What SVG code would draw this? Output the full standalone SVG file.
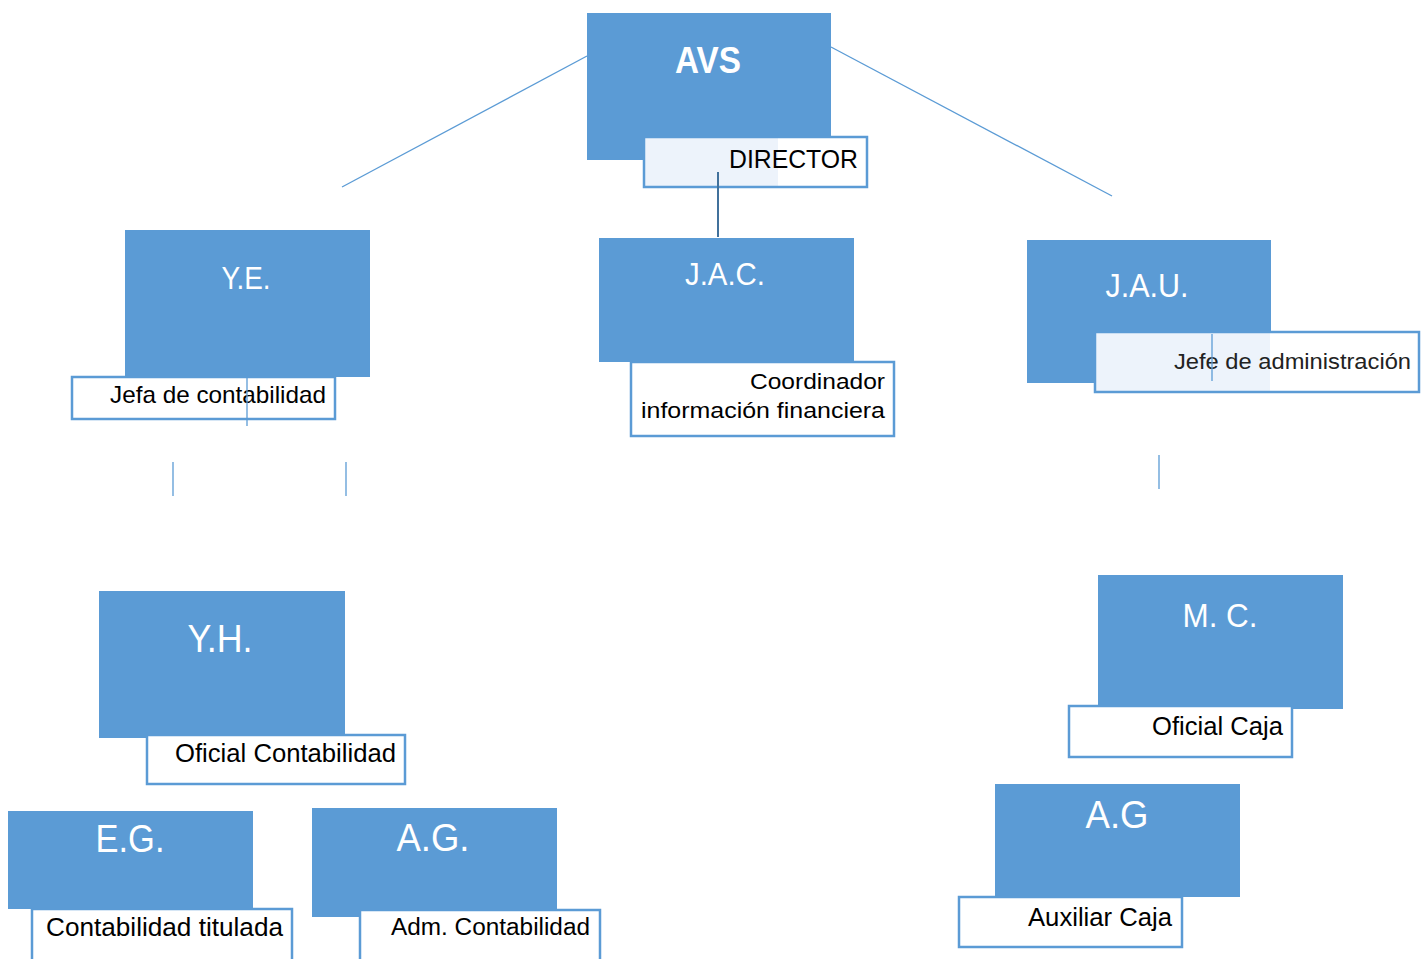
<svg xmlns="http://www.w3.org/2000/svg" width="1424" height="959" viewBox="0 0 1424 959">
<style>
.box{fill:#5b9bd5}
.lab{fill:#fff;stroke:#5b9bd5;stroke-width:2.5}
.tint{stroke:#5b9bd5;stroke-width:2.5}
.h{fill:#fff;font-family:"Liberation Sans",Arial,sans-serif;text-anchor:middle}
.t{fill:#000;font-family:"Liberation Sans",Arial,sans-serif;text-anchor:end}
.c{stroke:#5b9bd5;stroke-width:1.3;fill:none}
</style>
<defs>
<linearGradient id="g1" x1="0" y1="0" x2="1" y2="0">
<stop offset="0" stop-color="#edf3fb"/><stop offset="0.6" stop-color="#edf3fb"/><stop offset="0.6" stop-color="#fff"/><stop offset="1" stop-color="#fff"/>
</linearGradient>
<linearGradient id="g2" x1="0" y1="0" x2="1" y2="0">
<stop offset="0" stop-color="#edf3fb"/><stop offset="0.54" stop-color="#edf3fb"/><stop offset="0.54" stop-color="#fff"/><stop offset="1" stop-color="#fff"/>
</linearGradient>
</defs>
<g id="avs">
<rect class="box" x="587" y="13" width="244" height="147"/>
<text class="h" x="708" y="73" font-size="36" font-weight="bold" textLength="66" lengthAdjust="spacingAndGlyphs">AVS</text>
<rect class="tint" x="644" y="137" width="223" height="50" fill="url(#g1)"/>
<text class="t" x="858" y="168" font-size="26" textLength="129" lengthAdjust="spacingAndGlyphs">DIRECTOR</text>
</g>
<g id="ye">
<rect class="box" x="125" y="230" width="245" height="147"/>
<text class="h" x="246" y="289" font-size="32" textLength="49" lengthAdjust="spacingAndGlyphs">Y.E.</text>
<rect class="lab" x="72" y="377" width="263" height="42"/>
<text class="t" x="326" y="403" font-size="24" textLength="216" lengthAdjust="spacingAndGlyphs">Jefa de contabilidad</text>
</g>
<g id="jac">
<rect class="box" x="599" y="238" width="255" height="124"/>
<text class="h" x="725" y="285" font-size="32" textLength="80" lengthAdjust="spacingAndGlyphs">J.A.C.</text>
<rect class="lab" x="631" y="362" width="263" height="74"/>
<text class="t" x="885" y="389" font-size="22" textLength="135" lengthAdjust="spacingAndGlyphs">Coordinador</text>
<text class="t" x="885" y="418" font-size="22" textLength="244" lengthAdjust="spacingAndGlyphs">información financiera</text>
</g>
<g id="jau">
<rect class="box" x="1027" y="240" width="244" height="143"/>
<text class="h" x="1147" y="297" font-size="33" textLength="83" lengthAdjust="spacingAndGlyphs">J.A.U.</text>
<rect class="tint" x="1095" y="332" width="324" height="60" fill="url(#g2)"/>
<text x="1411" y="369" font-size="22" fill="#222" font-family="'Liberation Sans',Arial,sans-serif" text-anchor="end" textLength="237" lengthAdjust="spacingAndGlyphs">Jefe de administración</text>
</g>
<g id="yh">
<rect class="box" x="99" y="591" width="246" height="147"/>
<text class="h" x="220" y="652" font-size="39" textLength="65" lengthAdjust="spacingAndGlyphs">Y.H.</text>
<rect class="lab" x="147" y="735" width="258" height="49"/>
<text class="t" x="396" y="762" font-size="25" textLength="221" lengthAdjust="spacingAndGlyphs">Oficial Contabilidad</text>
</g>
<g id="eg">
<rect class="box" x="8" y="811" width="245" height="98"/>
<text class="h" x="130" y="852" font-size="39" textLength="69" lengthAdjust="spacingAndGlyphs">E.G.</text>
<rect class="lab" x="32" y="909" width="260" height="56"/>
<text class="t" x="283" y="936" font-size="25" textLength="237" lengthAdjust="spacingAndGlyphs">Contabilidad titulada</text>
</g>
<g id="ag1">
<rect class="box" x="312" y="808" width="245" height="109"/>
<text class="h" x="433" y="851" font-size="39" textLength="73" lengthAdjust="spacingAndGlyphs">A.G.</text>
<rect class="lab" x="360" y="910" width="240" height="55"/>
<text class="t" x="590" y="935" font-size="23" textLength="199" lengthAdjust="spacingAndGlyphs">Adm. Contabilidad</text>
</g>
<g id="mc">
<rect class="box" x="1098" y="575" width="245" height="134"/>
<text class="h" x="1220" y="627" font-size="34" textLength="75" lengthAdjust="spacingAndGlyphs">M. C.</text>
<rect class="lab" x="1069" y="706" width="223" height="51"/>
<text class="t" x="1283" y="735" font-size="25" textLength="131" lengthAdjust="spacingAndGlyphs">Oficial Caja</text>
</g>
<g id="ag2">
<rect class="box" x="995" y="784" width="245" height="113"/>
<text class="h" x="1117" y="828" font-size="39" textLength="63" lengthAdjust="spacingAndGlyphs">A.G</text>
<rect class="lab" x="959" y="897" width="223" height="50"/>
<text class="t" x="1172" y="926" font-size="25" textLength="144" lengthAdjust="spacingAndGlyphs">Auxiliar Caja</text>
</g>
<g id="connectors">
<line class="c" x1="587" y1="56" x2="342" y2="187"/>
<line class="c" x1="831" y1="47" x2="1112" y2="196"/>
<line x1="718" y1="172" x2="718" y2="237" stroke="#41719c" stroke-width="2"/>
<line class="c" x1="247" y1="377" x2="247" y2="426"/>
<line class="c" x1="1212" y1="334" x2="1212" y2="381"/>
<line class="c" x1="173" y1="462" x2="173" y2="496"/>
<line class="c" x1="346" y1="462" x2="346" y2="496"/>
<line class="c" x1="1159" y1="455" x2="1159" y2="489"/>
</g>
</svg>
